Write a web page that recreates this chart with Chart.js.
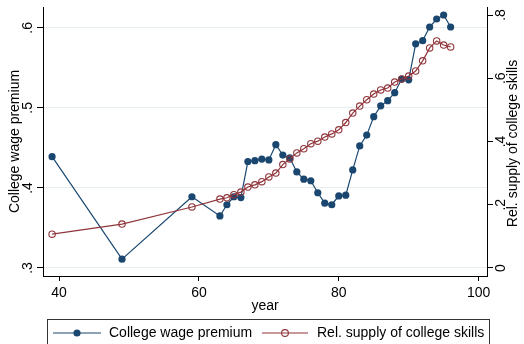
<!DOCTYPE html>
<html>
<head>
<meta charset="utf-8">
<script src="https://cdn.jsdelivr.net/npm/chart.js@4/dist/chart.umd.min.js"></script>
<style>
  html, body { margin: 0; padding: 0; background: #ffffff; }
  canvas { display: block; }
</style>
</head>
<body>
<canvas id="c" width="524" height="344"></canvas>
<script>
// Years (two-digit, 19xx) and the two series
const years = [39, 49, 59, 63, 64, 65, 66, 67, 68, 69, 70, 71, 72, 73, 74, 75, 76, 77, 78, 79,
               80, 81, 82, 83, 84, 85, 86, 87, 88, 89, 90, 91, 92, 93, 94, 95, 96];
const wagePremium = [0.439, 0.311, 0.389, 0.365, 0.379, 0.389, 0.388, 0.433, 0.434, 0.436,
                     0.435, 0.454, 0.441, 0.4375, 0.420, 0.411, 0.409, 0.394, 0.381, 0.379,
                     0.390, 0.391, 0.4225, 0.4525, 0.466, 0.489, 0.5025, 0.509, 0.519, 0.536,
                     0.535, 0.580, 0.584, 0.601, 0.611, 0.616, 0.601];
const relSupply = [0.107, 0.139, 0.193, 0.218, 0.222, 0.232, 0.240, 0.256, 0.263, 0.273,
                   0.288, 0.300, 0.327, 0.345, 0.364, 0.377, 0.393, 0.401, 0.414, 0.424,
                   0.437, 0.460, 0.490, 0.512, 0.532, 0.550, 0.563, 0.569, 0.588, 0.598,
                   0.607, 0.623, 0.655, 0.696, 0.718, 0.705, 0.699];

// Axis ticks and labels
const xTicks = [40, 60, 80, 100];
const leftTicks = [0.3, 0.4, 0.5, 0.6];
const leftTickLabels = ['.3', '.4', '.5', '.6'];
const rightTicks = [0, 0.2, 0.4, 0.6, 0.8];
const rightTickLabels = ['0', '.2', '.4', '.6', '.8'];

const seriesNames = ['College wage premium', 'Rel. supply of college skills'];
const axisTitles = { x: 'year', left: 'College wage premium', right: 'Rel. supply of college skills' };

const BLUE = '#1a476f';
const RED = '#90353b';
const FONT = '14px "Liberation Sans", Arial, sans-serif';

const wageData = years.map((y, i) => ({ x: y, y: wagePremium[i] }));
const supplyData = years.map((y, i) => ({ x: y, y: relSupply[i] }));

function fixedTicks(values) {
  return (scale) => { scale.ticks = values.map(v => ({ value: v })); };
}

// Rotated tick labels, axis titles and the framed legend row
const decorations = {
  id: 'decorations',
  afterDraw(chart) {
    const ctx = chart.ctx;
    const area = chart.chartArea;
    const sx = chart.scales.x, sl = chart.scales.yL, sr = chart.scales.yR;
    const midY = (area.top + area.bottom) / 2;
    ctx.save();
    ctx.fillStyle = '#000';
    ctx.font = FONT;
    ctx.textAlign = 'center';
    ctx.textBaseline = 'middle';

    function rotText(text, x, y) {
      ctx.save();
      ctx.translate(x, y);
      ctx.rotate(-Math.PI / 2);
      ctx.fillText(text, 0, 0);
      ctx.restore();
    }

    leftTicks.forEach((v, i) => rotText(leftTickLabels[i], 28, sl.getPixelForValue(v)));
    rightTicks.forEach((v, i) => rotText(rightTickLabels[i], 501, sr.getPixelForValue(v)));
    rotText(axisTitles.left, 15, midY);
    rotText(axisTitles.right, 513, midY + 2);

    xTicks.forEach(v => ctx.fillText(String(v), sx.getPixelForValue(v), 293));
    ctx.fillText(axisTitles.x, (area.left + area.right) / 2, 306);

    // legend frame
    ctx.strokeStyle = '#333';
    ctx.lineWidth = 1;
    ctx.strokeRect(47.5, 319.5, 442, 40);

    const ly = 333;
    ctx.lineWidth = 1.2;
    ctx.strokeStyle = BLUE;
    ctx.beginPath(); ctx.moveTo(53, ly); ctx.lineTo(101, ly); ctx.stroke();
    ctx.fillStyle = BLUE;
    ctx.beginPath(); ctx.arc(77, ly, 3.6, 0, Math.PI * 2); ctx.fill();

    ctx.strokeStyle = RED;
    ctx.beginPath(); ctx.moveTo(262, ly); ctx.lineTo(308, ly); ctx.stroke();
    ctx.lineWidth = 1.1;
    ctx.beginPath(); ctx.arc(285, ly, 3.4, 0, Math.PI * 2); ctx.stroke();

    ctx.fillStyle = '#000';
    ctx.textAlign = 'left';
    ctx.fillText(seriesNames[0], 109, ly);
    ctx.fillText(seriesNames[1], 317, ly);
    ctx.restore();
  }
};

new Chart(document.getElementById('c'), {
  type: 'line',
  data: {
    datasets: [
      {
        label: seriesNames[0],
        data: wageData,
        yAxisID: 'yL',
        borderColor: BLUE,
        backgroundColor: BLUE,
        borderWidth: 1.2,
        pointRadius: 3.6,
        pointBorderWidth: 0,
        pointBackgroundColor: BLUE,
        tension: 0,
        order: 1
      },
      {
        label: seriesNames[1],
        data: supplyData,
        yAxisID: 'yR',
        borderColor: RED,
        backgroundColor: 'rgba(0,0,0,0)',
        borderWidth: 1.2,
        pointRadius: 3.2,
        pointBorderWidth: 1.1,
        pointBorderColor: RED,
        pointBackgroundColor: 'rgba(0,0,0,0)',
        tension: 0,
        order: 0
      }
    ]
  },
  options: {
    responsive: false,
    animation: false,
    devicePixelRatio: 1,
    layout: { padding: { top: 7, left: 0, right: 0, bottom: 0 } },
    plugins: { legend: { display: false }, tooltip: { enabled: false } },
    scales: {
      x: {
        type: 'linear',
        min: 37.7,
        max: 101.2,
        afterBuildTicks: fixedTicks(xTicks),
        afterFit: (s) => { s.height = 68; },
        ticks: { display: false },
        border: { display: true, color: '#000', width: 1 },
        grid: { drawOnChartArea: false, drawTicks: true, tickLength: 5, tickColor: '#000' }
      },
      yL: {
        type: 'linear',
        position: 'left',
        min: 0.29,
        max: 0.626,
        afterBuildTicks: fixedTicks(leftTicks),
        afterFit: (s) => { s.width = 43; },
        ticks: { display: false },
        border: { display: true, color: '#000', width: 1 },
        grid: { color: '#e6eef0', lineWidth: 1, drawTicks: true, tickLength: 6, tickColor: '#000' }
      },
      yR: {
        type: 'linear',
        position: 'right',
        min: -0.0253,
        max: 0.8253,
        afterBuildTicks: fixedTicks(rightTicks),
        afterFit: (s) => { s.width = 37; },
        ticks: { display: false },
        border: { display: true, color: '#000', width: 1 },
        grid: { drawOnChartArea: false, drawTicks: true, tickLength: 6, tickColor: '#000' }
      }
    }
  },
  plugins: [decorations]
});
</script>
</body>
</html>
